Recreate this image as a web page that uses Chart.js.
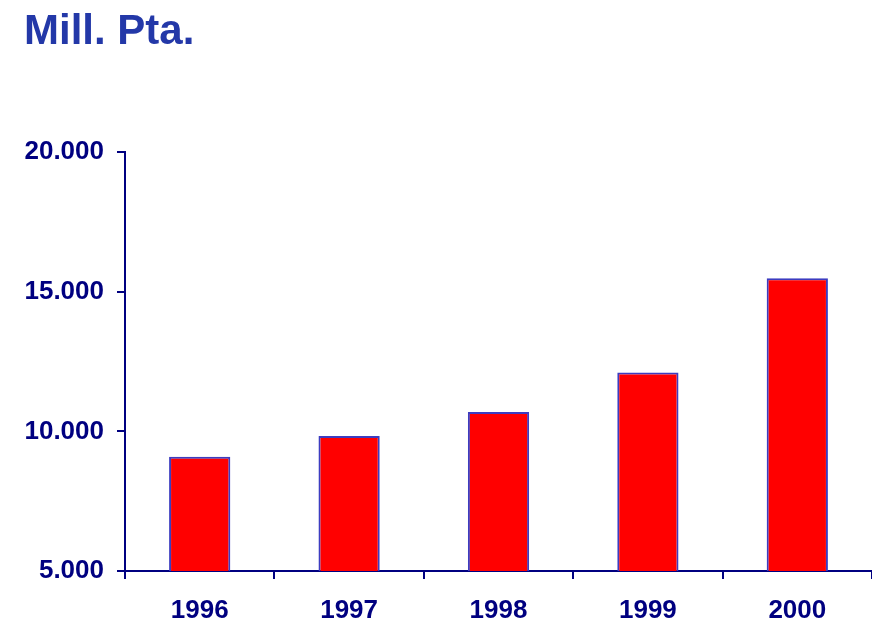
<!DOCTYPE html>
<html>
<head>
<meta charset="utf-8">
<script src="https://cdn.jsdelivr.net/npm/chart.js@4/dist/chart.umd.min.js"></script>
<style>
  html, body { margin: 0; padding: 0; background: #fff; }
  #wrap { position: relative; width: 872px; height: 624px; }
  #title {
    position: absolute; left: 24px; top: 6px; margin: 0;
    font: bold 42px "Liberation Sans", Arial, sans-serif; color: #2338a8;
  }
</style>
</head>
<body>
<div id="wrap">
  <div id="title">Mill. Pta.</div>
  <canvas id="graph" width="872" height="624"></canvas>
</div>
<script>
// chart data
const years = ["1996", "1997", "1998", "1999", "2000"];
const amounts = [9090, 9830, 10690, 12110, 15480];
const yTicks = [5000, 10000, 15000, 20000];

const navy = "#000080";
const labelFont = { family: "'Liberation Sans', Arial, sans-serif", size: 26, weight: "bold" };

// 5000 -> "5.000"
function fmt(v) {
  return String(v).replace(/\B(?=(\d{3})+(?!\d))/g, ".");
}

const ctx = document.getElementById("graph").getContext("2d");
new Chart(ctx, {
  type: "bar",
  data: {
    labels: years,
    datasets: [
      {
        data: amounts,
        backgroundColor: "#ff0000",
        borderColor: "#3c3cc0",
        borderWidth: 2,
        barPercentage: 0.41,
        categoryPercentage: 1,
      },
    ],
  },
  options: {
    responsive: false,
    animation: false,
    layout: { padding: { top: 152, left: 0, right: 0, bottom: 0 } },
    plugins: { legend: { display: false }, tooltip: { enabled: false } },
    scales: {
      x: {
        grid: { drawOnChartArea: false, drawTicks: true, tickLength: 8, color: navy, lineWidth: 2 },
        border: { display: true, color: navy, width: 2 },
        ticks: { color: navy, font: labelFont, padding: 16, maxRotation: 0 },
        afterFit: (scale) => { scale.height = 53; },
      },
      y: {
        min: 5000,
        max: 20000,
        afterBuildTicks: (scale) => { scale.ticks = yTicks.map((v) => ({ value: v })); },
        grid: { drawOnChartArea: false, drawTicks: true, tickLength: 8, color: navy, lineWidth: 2 },
        border: { display: true, color: navy, width: 2 },
        ticks: { color: navy, font: labelFont, padding: 13, callback: (v) => fmt(v) },
        afterFit: (scale) => { scale.width = 125; },
      },
    },
  },
});
</script>
</body>
</html>
